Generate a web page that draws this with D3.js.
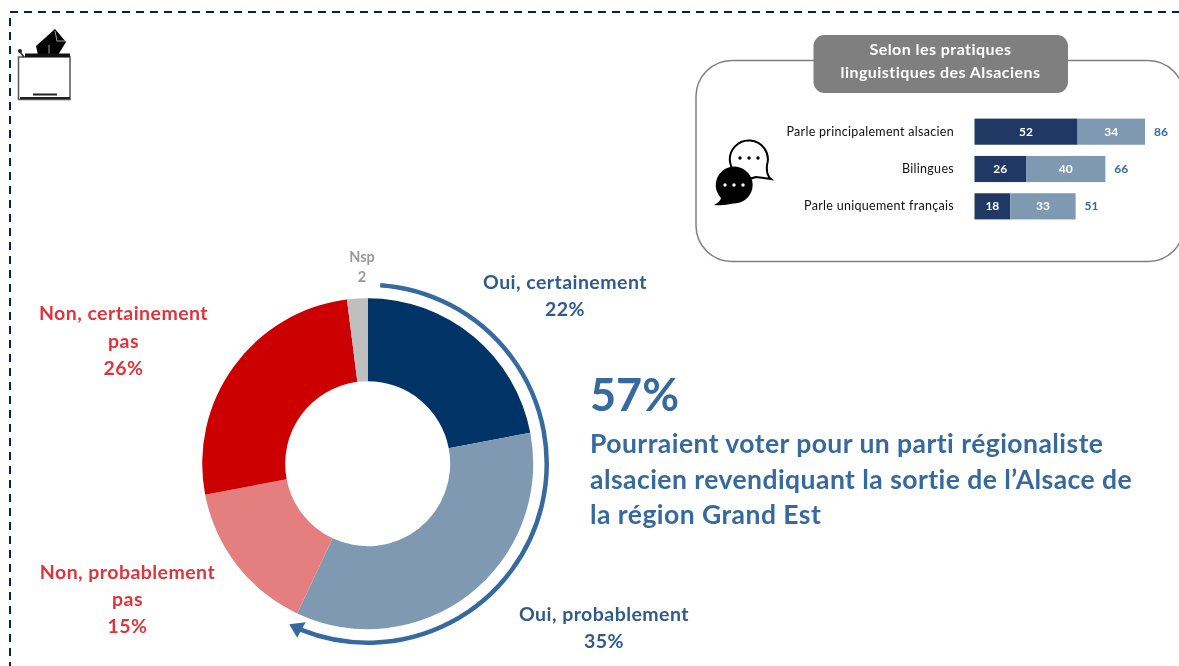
<!DOCTYPE html>
<html>
<head>
<meta charset="utf-8">
<script src="https://cdn.jsdelivr.net/npm/d3@7"></script>
<style>
  html, body { margin: 0; padding: 0; background: #fff; overflow: hidden; }
  text { font-family: Lato, "Open Sans", sans-serif; }
  svg { filter: blur(0.45px); }
</style>
</head>
<body>
<div id="chart"></div>
<script>
// donut
const voteLabels = ['Oui, certainement', 'Oui, probablement', 'Non, probablement pas', 'Non, certainement pas', 'Nsp'];
const voteValues = [22, 35, 15, 26, 2];
const voteColors = ['#003366', '#7f99b2', '#e57f7f', '#cc0000', '#bfbfbf'];

// small stacked bars
const practices = ['Parle principalement alsacien', 'Bilingues', 'Parle uniquement français'];
const certain = [52, 26, 18];
const probable = [34, 40, 33];
const totals = [86, 66, 51];

const blue = '#366a9f';
const navyLabel = '#2f5a8c';
const red = '#e0343c';

const svg = d3.select('#chart').append('svg')
  .attr('width', 1179)
  .attr('height', 666);

// dashed page frame
svg.append('rect')
  .attr('x', 10).attr('y', 12)
  .attr('width', 1300).attr('height', 800)
  .attr('fill', 'none')
  .attr('stroke', '#002060')
  .attr('stroke-width', 2)
  .attr('stroke-dasharray', '8 6');

// ballot box icon
const box = svg.append('g');
box.append('rect')
  .attr('x', 18.5).attr('y', 57)
  .attr('width', 51.5).attr('height', 42.5)
  .attr('fill', '#fff').attr('stroke', '#555').attr('stroke-width', 1.5);
box.append('path').attr('d', 'M36 46 L55 29 L66 42 L58 55 L38 55 Z').attr('fill', '#000');
box.append('path').attr('d', 'M55 31 L57 41 L65 41 M49 45 V55').attr('fill', 'none').attr('stroke', '#ccc').attr('stroke-width', 0.8);
box.append('rect').attr('x', 25).attr('y', 53.5).attr('width', 45).attr('height', 3.5).attr('fill', '#111');
box.append('circle').attr('cx', 20).attr('cy', 51).attr('r', 2).attr('fill', '#222');
box.append('path').attr('d', 'M20 52 L24 57').attr('stroke', '#222').attr('stroke-width', 1.5);
box.append('path').attr('d', 'M20 98 H70 M33 94.5 H57').attr('stroke', '#222').attr('stroke-width', 2);

// donut
const cx = 367.7, cy = 463.7;
const pie = d3.pie().sort(null).value(d => d);
const arc = d3.arc().innerRadius(82.5).outerRadius(165.5);
const donut = svg.append('g').attr('transform', `translate(${cx},${cy})`);
donut.selectAll('path')
  .data(pie(voteValues))
  .join('path')
  .attr('d', arc)
  .attr('fill', (d, i) => voteColors[i]);

// curved arrow round the "oui" slices
const deg = Math.PI / 180;
const sweep = d3.arc().innerRadius(179).outerRadius(179);
donut.append('path')
  .attr('d', sweep({ startAngle: 4 * deg, endAngle: 202 * deg }))
  .attr('fill', 'none')
  .attr('stroke', blue)
  .attr('stroke-width', 4.5);
donut.append('path')
  .attr('d', 'M-78.5 160.5 L-62 158.5 L-66 165.5 L-70.5 174 Z')
  .attr('fill', blue);

function multiline(x, y, lines, step, size, color, anchor, spacing) {
  const t = svg.append('text')
    .attr('x', x).attr('y', y)
    .attr('text-anchor', anchor || 'middle')
    .attr('font-size', size)
    .attr('font-weight', 700)
    .attr('letter-spacing', spacing || 0)
    .attr('fill', color);
  lines.forEach((line, i) => {
    t.append('tspan').attr('x', x).attr('y', y + i * step).text(line);
  });
}

multiline(565, 289, [voteLabels[0], voteValues[0] + '%'], 27, 19.5, navyLabel, 'middle', 0.45);
multiline(604, 621, [voteLabels[1], voteValues[1] + '%'], 27, 19.5, navyLabel, 'middle', 0.45);
multiline(127.5, 579, ['Non, probablement', 'pas', voteValues[2] + '%'], 27, 19.5, red, 'middle', 0.45);
multiline(123.5, 320, ['Non, certainement', 'pas', voteValues[3] + '%'], 27.5, 19.5, red, 'middle', 0.45);
multiline(362, 262, [voteLabels[4], voteValues[4]], 20, 14.5, '#999');

// headline
multiline(590, 411, ['57%'], 0, 45, blue, 'start');
multiline(590, 453, ['Pourraient voter pour un parti régionaliste',
  'alsacien revendiquant la sortie de l’Alsace de',
  'la région Grand Est'], 35.5, 26.5, blue, 'start', 0.45);

// panel
svg.append('rect')
  .attr('x', 696).attr('y', 60.5)
  .attr('width', 488).attr('height', 201)
  .attr('rx', 36)
  .attr('fill', '#fff').attr('stroke', '#7f7f7f').attr('stroke-width', 1.5);
svg.append('rect')
  .attr('x', 813.5).attr('y', 35)
  .attr('width', 254.5).attr('height', 58)
  .attr('rx', 11)
  .attr('fill', '#7f7f7f');
multiline(940.5, 55, ['Selon les pratiques', 'linguistiques des Alsaciens'], 23, 16, '#fff', 'middle', 0.45);

// stacked bars
const x = d3.scaleLinear().domain([0, 86]).range([974.5, 1145]);
const y = d3.scaleBand().domain(practices).range([113, 225]).paddingInner(0.3).paddingOuter(0.15);
const bars = svg.append('g');

bars.selectAll('rect.certain')
  .data(practices)
  .join('rect')
  .attr('class', 'certain')
  .attr('x', x(0))
  .attr('y', d => y(d))
  .attr('width', (d, i) => x(certain[i]) - x(0))
  .attr('height', y.bandwidth())
  .attr('fill', '#1f3864');
bars.selectAll('rect.probable')
  .data(practices)
  .join('rect')
  .attr('class', 'probable')
  .attr('x', (d, i) => x(certain[i]))
  .attr('y', d => y(d))
  .attr('width', (d, i) => x(probable[i]) - x(0))
  .attr('height', y.bandwidth())
  .attr('fill', '#7f99b2');

const mid = d => y(d) + y.bandwidth() / 2 + 4;
bars.selectAll('text.cat')
  .data(practices)
  .join('text')
  .attr('class', 'cat')
  .attr('x', 954).attr('y', mid)
  .attr('text-anchor', 'end')
  .attr('font-size', 12.5)
  .attr('letter-spacing', 0.3)
  .attr('fill', '#111')
  .text(d => d);
bars.selectAll('text.v1')
  .data(practices)
  .join('text')
  .attr('class', 'v1')
  .attr('x', (d, i) => x(certain[i] / 2)).attr('y', mid)
  .attr('text-anchor', 'middle')
  .attr('font-size', 12).attr('font-weight', 700)
  .attr('fill', '#fff')
  .text((d, i) => certain[i]);
bars.selectAll('text.v2')
  .data(practices)
  .join('text')
  .attr('class', 'v2')
  .attr('x', (d, i) => x(certain[i] + probable[i] / 2)).attr('y', mid)
  .attr('text-anchor', 'middle')
  .attr('font-size', 12).attr('font-weight', 700)
  .attr('fill', '#fff')
  .text((d, i) => probable[i]);
bars.selectAll('text.total')
  .data(practices)
  .join('text')
  .attr('class', 'total')
  .attr('x', (d, i) => x(totals[i]) + 9).attr('y', mid)
  .attr('font-size', 12).attr('font-weight', 700)
  .attr('fill', blue)
  .text((d, i) => totals[i]);

// speech bubbles icon
const bubbles = svg.append('g');
bubbles.append('path')
  .attr('d', 'M767 165 A19 19 0 1 0 756 177 L771 179 Q766 175 767 165 Z')
  .attr('fill', '#fff').attr('stroke', '#000').attr('stroke-width', 2);
bubbles.append('path')
  .attr('d', 'M721 198 A18.5 18.5 0 1 1 733 203.5 Q724 206 714 205 Q720 202 721 198 Z')
  .attr('fill', '#000');
[740, 749, 758].forEach(px => bubbles.append('circle').attr('cx', px).attr('cy', 158).attr('r', 1.7).attr('fill', '#000'));
[725, 734, 743].forEach(px => bubbles.append('circle').attr('cx', px).attr('cy', 185).attr('r', 1.7).attr('fill', '#fff'));
</script>
</body>
</html>
